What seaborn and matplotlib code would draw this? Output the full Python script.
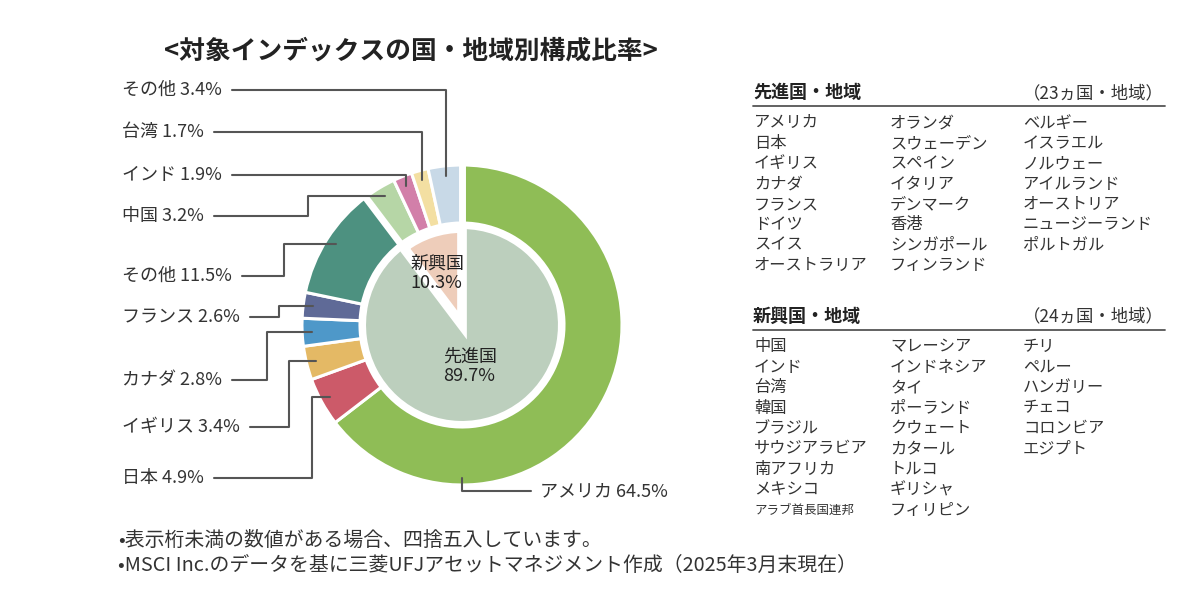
import numpy as np
import matplotlib
matplotlib.use("Agg")
import matplotlib.pyplot as plt
import seaborn as sns

W, H = 1200, 602

# 外側リング：国・地域別構成比率（%）
outer_labels = ["アメリカ", "日本", "イギリス", "カナダ", "フランス", "その他",
                "中国", "インド", "台湾", "その他"]
outer_values = [64.5, 4.9, 3.4, 2.8, 2.6, 11.5, 3.2, 1.9, 1.7, 3.4]
outer_colors = ["#8fbd56", "#cc5a69", "#e4b965", "#4e98c9", "#5f6a97", "#4d9180",
                "#b6d6a6", "#d27fa9", "#f3dfa2", "#c8d9e7"]

# 内側：先進国・新興国
inner_labels = ["先進国", "新興国"]
inner_values = [89.7, 10.3]
inner_colors = ["#bccfbd", "#eecdba"]

title = "<対象インデックスの国・地域別構成比率>"

dev_title = "先進国・地域"
dev_count = "（23ヵ国・地域）"
dev_columns = [
    ["アメリカ", "日本", "イギリス", "カナダ", "フランス", "ドイツ", "スイス", "オーストラリア"],
    ["オランダ", "スウェーデン", "スペイン", "イタリア", "デンマーク", "香港", "シンガポール", "フィンランド"],
    ["ベルギー", "イスラエル", "ノルウェー", "アイルランド", "オーストリア", "ニュージーランド", "ポルトガル"],
]
em_title = "新興国・地域"
em_count = "（24ヵ国・地域）"
em_columns = [
    ["中国", "インド", "台湾", "韓国", "ブラジル", "サウジアラビア", "南アフリカ", "メキシコ", "アラブ首長国連邦"],
    ["マレーシア", "インドネシア", "タイ", "ポーランド", "クウェート", "カタール", "トルコ", "ギリシャ", "フィリピン"],
    ["チリ", "ペルー", "ハンガリー", "チェコ", "コロンビア", "エジプト"],
]
small_names = ["アラブ首長国連邦"]  # 枠に収めるため小さめの文字

notes = [
    "•表示桁未満の数値がある場合、四捨五入しています。",
    "•MSCI Inc.のデータを基に三菱UFJアセットマネジメント作成（2025年3月末現在）",
]

# ラベル配置（画像座標：y, 折れ点x）
label_x = 122
label_y = [491, 478, 427, 380, 317, 276, 216, 175, 132, 90]
label_elbow = [None, 312, 289, 267, 279, 284, 308, None, None, None]

sns.set_theme(style="white")
plt.rcParams["font.family"] = ["Noto Sans CJK JP", "DejaVu Sans"]

TXT = "#333333"
LINE = "#555555"


def fy(y):
    return H - y


fig = plt.figure(figsize=(12, 6.02), dpi=100)
ax = fig.add_axes([0, 0, 1, 1])

cx, cy = 462, fy(325)
R_OUT, RING_W, R_IN = 160, 58, 97

# 外側リング
wedges_out, _ = ax.pie(outer_values, colors=outer_colors, radius=R_OUT, center=(cx, cy),
                       startangle=90, counterclock=False, frame=True,
                       wedgeprops=dict(width=RING_W, edgecolor="white", linewidth=2.2))

# 内側の円
wedges_in, _ = ax.pie(inner_values, colors=inner_colors, radius=R_IN, center=(cx, cy),
                      startangle=90, counterclock=False, frame=True,
                      wedgeprops=dict(edgecolor="white", linewidth=1.5))
wedges_in[1].set_linewidth(7)
wedges_in[1].set_zorder(wedges_in[0].get_zorder() + 1)

ax.set_xlim(0, W)
ax.set_ylim(0, H)
ax.set_aspect("equal")
ax.axis("off")

total = sum(outer_values)
frac = np.array(outer_values) / total
cum = np.concatenate([[0], np.cumsum(frac)])


def clock_to_xy(f, r):
    a = np.deg2rad(90 - 360 * f)
    return cx + r * np.cos(a), cy + r * np.sin(a)


# 先進国／新興国の境界に少し太い白線
for f in [0, inner_values[0] / sum(inner_values)]:
    x0, y0 = clock_to_xy(f, R_OUT - RING_W - 3)
    x1, y1 = clock_to_xy(f, R_OUT + 3)
    ax.plot([x0, x1], [y0, y1], color="white", lw=5, solid_capstyle="butt", zorder=5)

# ラベルと引き出し線
renderer = fig.canvas.get_renderer()
for i, (name, val) in enumerate(zip(outer_labels, outer_values)):
    ly = fy(label_y[i])
    s = f"{name} {val:.1f}%"
    if i == 0:
        ax.text(540, ly, s, ha="left", va="center", fontsize=13, color=TXT)
        ex, ey = clock_to_xy(0.5, 153)
        ax.plot([ex, ex, 531], [ey, ly, ly], color=LINE, lw=1.5, zorder=6)
        continue
    t = ax.text(label_x, ly, s, ha="left", va="center", fontsize=13, color=TXT)
    bb = t.get_window_extent(renderer).transformed(ax.transData.inverted())
    sx = bb.x1 + 10
    mid = (cum[i] + cum[i + 1]) / 2
    ex, ey = clock_to_xy(mid, 150)
    if label_elbow[i] is None:
        xs, ys = [sx, ex, ex], [ly, ly, ey]
    else:
        bx = label_elbow[i]
        xs, ys = [sx, bx, bx, ex], [ly, ly, ey, ey]
    ax.plot(xs, ys, color=LINE, lw=1.5, zorder=6)

# 内側ラベル
ax.text(410, fy(273), f"{inner_labels[1]}\n{inner_values[1]:.1f}%", ha="left", va="center",
        fontsize=13, color="#222222", linespacing=1.1, zorder=7)
ax.text(443, fy(366), f"{inner_labels[0]}\n{inner_values[0]:.1f}%", ha="left", va="center",
        fontsize=13, color="#222222", linespacing=1.1, zorder=7)

# タイトル
ax.text(411, fy(51), title, ha="center", va="center", fontsize=18.5, fontweight="bold",
        color="#222222")

# 右側の国・地域リスト
col_x = [754, 890, 1023]


def draw_list(head, count, columns, y_head, y_line, y_first):
    ax.text(753, fy(y_head), head, ha="left", va="center", fontsize=13, fontweight="bold",
            color="#222222")
    ax.text(1164, fy(y_head), count, ha="right", va="center", fontsize=12.5, color=TXT)
    ax.plot([753, 1165], [fy(y_line), fy(y_line)], color=LINE, lw=1.3)
    for cxl, names in zip(col_x, columns):
        for k, nm in enumerate(names):
            fs = 9 if nm in small_names else 11.7
            ax.text(cxl, fy(y_first + 20.4 * k), nm, ha="left", va="center",
                    fontsize=fs, color=TXT)


draw_list(dev_title, dev_count, dev_columns, 93, 106, 123)
draw_list(em_title, em_count, em_columns, 316, 330, 347)

# 注記
for k, s in enumerate(notes):
    ax.text(118, fy(540 + 25 * k), s, ha="left", va="center", fontsize=14.3, color=TXT)

fig.savefig("out.png", dpi=100, facecolor="white")
